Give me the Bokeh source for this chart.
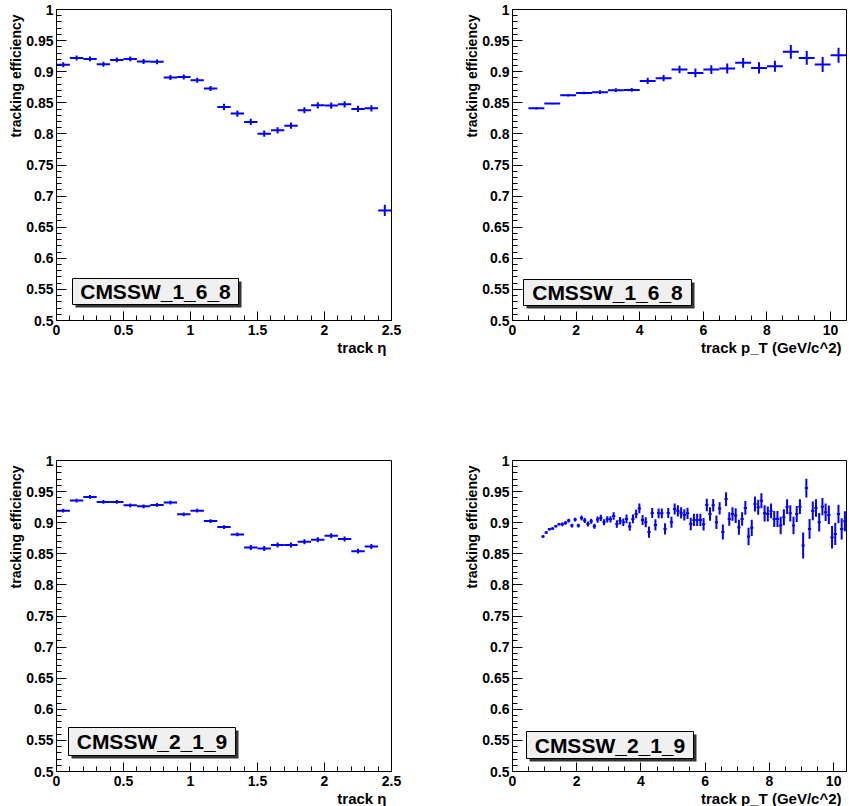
import numpy as np
from bokeh.plotting import figure
from bokeh.layouts import column, row
from bokeh.models import FixedTicker, CustomJSTickFormatter, BoxAnnotation, Label, Range1d, ColumnDataSource, Title
from bokeh.embed import file_html
from bokeh.resources import INLINE

# ---------------- data ----------------
eta_centers = [0.05, 0.15, 0.25, 0.35, 0.45, 0.55, 0.65, 0.75, 0.85, 0.95,
               1.05, 1.15, 1.25, 1.35, 1.45, 1.55, 1.65, 1.75, 1.85, 1.95,
               2.05, 2.15, 2.25, 2.35, 2.45]
eff_eta_168 = [0.911, 0.922, 0.9206, 0.912, 0.919, 0.9206, 0.9163, 0.9158, 0.8906, 0.8916,
               0.8863, 0.8729, 0.8433, 0.8326, 0.8192, 0.8004, 0.8058, 0.8133, 0.838, 0.846,
               0.8455, 0.8476, 0.8401, 0.8412, 0.677]
err_eta_168 = [0.004, 0.004, 0.004, 0.004, 0.004, 0.004, 0.004, 0.004, 0.004, 0.004,
               0.004, 0.004, 0.005, 0.005, 0.005, 0.005, 0.005, 0.005, 0.005, 0.005,
               0.005, 0.005, 0.005, 0.005, 0.009]

eta_centers_219 = eta_centers[:24]
eff_eta_219 = [0.9194, 0.9355, 0.9414, 0.9333, 0.9333, 0.928, 0.9263, 0.9285, 0.9323, 0.9134,
               0.9194, 0.9027, 0.893, 0.8812, 0.8602, 0.8586, 0.864, 0.864, 0.8694, 0.8726,
               0.879, 0.8737, 0.8543, 0.8618]
err_eta_219 = [0.003, 0.003, 0.003, 0.003, 0.003, 0.003, 0.003, 0.003, 0.003, 0.003,
               0.003, 0.003, 0.003, 0.003, 0.004, 0.004, 0.004, 0.004, 0.004, 0.004,
               0.004, 0.004, 0.004, 0.004]

pt_centers_168 = [0.75, 1.25, 1.75, 2.25, 2.75, 3.25, 3.75, 4.25, 4.75, 5.25,
                  5.75, 6.25, 6.75, 7.25, 7.75, 8.25, 8.75, 9.25, 9.75, 10.25]
eff_pt_168 = [0.8412, 0.8487, 0.8621, 0.8659, 0.867, 0.8702, 0.8707, 0.8852, 0.8895, 0.9034,
              0.898, 0.9034, 0.905, 0.9142, 0.9061, 0.9088, 0.9319, 0.9222, 0.9115, 0.9265]
err_pt_168 = [0.002, 0.001, 0.002, 0.002, 0.003, 0.003, 0.003, 0.005, 0.005, 0.006,
              0.007, 0.007, 0.008, 0.008, 0.009, 0.009, 0.011, 0.011, 0.012, 0.012]

pt_bin_first_center = 0.95
pt_bin_width_219 = 0.1
eff_pt_219 = [0.8777, 0.8841, 0.8894, 0.8905, 0.8942, 0.8974, 0.8974, 0.8996, 0.9034, 0.8954,
              0.905, 0.8954, 0.9076, 0.9034, 0.898, 0.9023, 0.8942, 0.905, 0.9076, 0.9007,
              0.9055, 0.9055, 0.9109,
              0.898, 0.903, 0.9007, 0.906, 0.894, 0.906, 0.914, 0.923, 0.9045, 0.9007,
              0.885, 0.9157, 0.8965, 0.915, 0.915, 0.890, 0.9157, 0.9007, 0.922, 0.919,
              0.9157, 0.9125, 0.915, 0.898, 0.9045, 0.9045, 0.9045, 0.8975, 0.9285, 0.914,
              0.928, 0.9007, 0.923, 0.885,
              0.938, 0.906, 0.914, 0.9114, 0.8926, 0.906, 0.9237, 0.8777, 0.8917, 0.930,
              0.9247, 0.9354, 0.915, 0.914, 0.919, 0.906, 0.906, 0.8954, 0.9087, 0.9258,
              0.915, 0.8954, 0.914, 0.9258, 0.8633, 0.9557, 0.890, 0.919, 0.9237, 0.9007,
              0.9258, 0.9167, 0.9125, 0.8766, 0.882, 0.914, 0.890, 0.9023]
err_pt_219 = [0.002, 0.002, 0.002, 0.002, 0.002, 0.002, 0.003, 0.003, 0.003, 0.003,
              0.003, 0.003, 0.004, 0.004, 0.004, 0.004, 0.004, 0.005, 0.005, 0.005,
              0.005, 0.005, 0.006, 0.006, 0.006, 0.006, 0.007, 0.007, 0.007, 0.007,
              0.008, 0.008, 0.008, 0.009, 0.008, 0.009, 0.008, 0.008, 0.009, 0.008,
              0.009, 0.009, 0.009, 0.009, 0.009, 0.009, 0.010, 0.010, 0.010, 0.010,
              0.010, 0.010, 0.011, 0.010, 0.011, 0.010, 0.012, 0.011, 0.011, 0.011,
              0.012, 0.012, 0.011, 0.011, 0.014, 0.013, 0.012, 0.012, 0.012, 0.013,
              0.012, 0.012, 0.013, 0.013, 0.014, 0.013, 0.012, 0.013, 0.014, 0.013,
              0.012, 0.021, 0.015, 0.016, 0.015, 0.014, 0.015, 0.014, 0.014, 0.015,
              0.018, 0.018, 0.015, 0.017, 0.016]
pt_centers_219 = [round(pt_bin_first_center + pt_bin_width_219 * i, 2) for i in range(len(eff_pt_219))]

y_label = "tracking efficiency"
eta_label = "track \u03b7"
pt_label = "track p_T (GeV/c^2)"
tags = ["CMSSW_1_6_8", "CMSSW_2_1_9"]

# ---------------- styling helpers ----------------
FONT = "Liberation Sans"
BLUE = "#0000ff"
FRAME_H = 311

y_major = [round(0.5 + 0.05 * i, 2) for i in range(11)]
y_minor = [round(0.5 + 0.01 * i, 2) for i in range(51)]
fmt_code = "return String(Number(tick.toFixed(3)));"


def make_panel(xc, half_w, eff, err, xmax, xlabel, x_major, x_minor, tag,
               b_left, b_right, b_top, b_bottom, frame_w, box_px):
    p = figure(frame_width=frame_w, frame_height=FRAME_H,
               x_range=Range1d(0, xmax), y_range=Range1d(0.5, 1.0),
               output_backend="svg", toolbar_location=None,
               min_border_left=b_left, min_border_right=b_right,
               min_border_top=b_top, min_border_bottom=b_bottom,
               background_fill_color="white", border_fill_color="white")
    p.xgrid.visible = False
    p.ygrid.visible = False
    p.outline_line_color = "black"
    p.outline_line_width = 1
    p.outline_line_alpha = 1

    xc = np.array(xc, dtype=float)
    eff = np.array(eff, dtype=float)
    err = np.array(err, dtype=float)
    src = ColumnDataSource(dict(x=xc, y=eff, xl=xc - half_w, xr=xc + half_w,
                                yl=eff - err, yh=eff + err))
    p.segment(x0="xl", y0="y", x1="xr", y1="y", source=src, line_color=BLUE, line_width=2)
    p.segment(x0="x", y0="yl", x1="x", y1="yh", source=src, line_color=BLUE, line_width=2)

    for ax in (p.xaxis[0], p.yaxis[0]):
        ax.axis_line_color = "black"
        ax.axis_line_width = 1
        ax.major_tick_line_color = "black"
        ax.minor_tick_line_color = "black"
        ax.major_tick_out = 0
        ax.minor_tick_out = 0
        ax.major_label_text_font = FONT
        ax.major_label_text_font_style = "bold"
        ax.major_label_text_font_size = "14px"
        ax.major_label_text_color = "black"
        ax.formatter = CustomJSTickFormatter(code=fmt_code)

    p.yaxis.ticker = FixedTicker(ticks=y_major, minor_ticks=y_minor)
    p.yaxis.major_tick_in = 10
    p.yaxis.minor_tick_in = 5
    p.yaxis.major_label_standoff = 3

    p.xaxis.ticker = FixedTicker(ticks=x_major, minor_ticks=x_minor)
    p.xaxis.major_tick_in = 9
    p.xaxis.minor_tick_in = 5
    p.xaxis.major_label_standoff = 4

    # axis titles, right/top aligned as in ROOT
    p.add_layout(Title(text=y_label, align="right", standoff=0, offset=5,
                       text_font=FONT, text_font_style="bold", text_font_size="14px",
                       text_color="black"), "left")
    p.add_layout(Title(text=xlabel, align="right", standoff=-2, offset=5,
                       text_font=FONT, text_font_style="bold", text_font_size="15px",
                       text_color="black"), "below")

    # pixel offsets from the frame's top-left corner converted to data units
    sx = xmax / frame_w
    sy = 0.5 / FRAME_H

    def dx(px):
        return px * sx

    def dy(px):
        return 1.0 - px * sy

    # label box
    bx0, bx1, by0, by1 = box_px
    shadow = BoxAnnotation(left=dx(bx0 + 3), right=dx(bx1 + 3), top=dy(by0 + 3), bottom=dy(by1 + 3),
                           fill_color="#333333", fill_alpha=1, line_alpha=0)
    box = BoxAnnotation(left=dx(bx0), right=dx(bx1), top=dy(by0), bottom=dy(by1),
                        fill_color="#f0f0f0", fill_alpha=1, line_color="black", line_width=1, line_alpha=1)
    p.add_layout(shadow)
    p.add_layout(box)
    lab = Label(x=dx((bx0 + bx1) / 2), y=dy((by0 + by1) / 2), text=tag,
                text_align="center", text_baseline="middle",
                text_font=FONT, text_font_style="bold", text_font_size="21px",
                text_color="black")
    p.add_layout(lab)
    return p


eta_major = [0, 0.5, 1, 1.5, 2, 2.5]
eta_minor = [round(0.1 * i, 2) for i in range(26)]
pt_major = [0, 2, 4, 6, 8, 10]
pt_minor_a = [0.5 * i for i in range(22)]
pt_minor_b = [0.5 * i for i in range(21)]

p1 = make_panel(eta_centers, 0.05, eff_eta_168, err_eta_168, 2.5, eta_label,
                eta_major, eta_minor, tags[0], 56, 39, 9, 83, 335, (16, 182, 269, 295))
p2 = make_panel(pt_centers_168, 0.25, eff_pt_168, err_pt_168, 10.5, pt_label,
                pt_major, pt_minor_a, tags[0], 82, 3, 9, 83, 334, (11, 179, 270, 296))
p3 = make_panel(eta_centers_219, 0.05, eff_eta_219, err_eta_219, 2.5, eta_label,
                eta_major, eta_minor, tags[1], 56, 39, 57, 35, 335, (12, 179, 267, 295))
p4 = make_panel(pt_centers_219, 0.05, eff_pt_219, err_pt_219, 10.4, pt_label,
                pt_major, pt_minor_b, tags[1], 82, 3, 57, 35, 334, (14, 181, 271, 298))

layout = column(row(p1, p2), row(p3, p4))
open("out.html", "w").write(file_html(layout, INLINE))
